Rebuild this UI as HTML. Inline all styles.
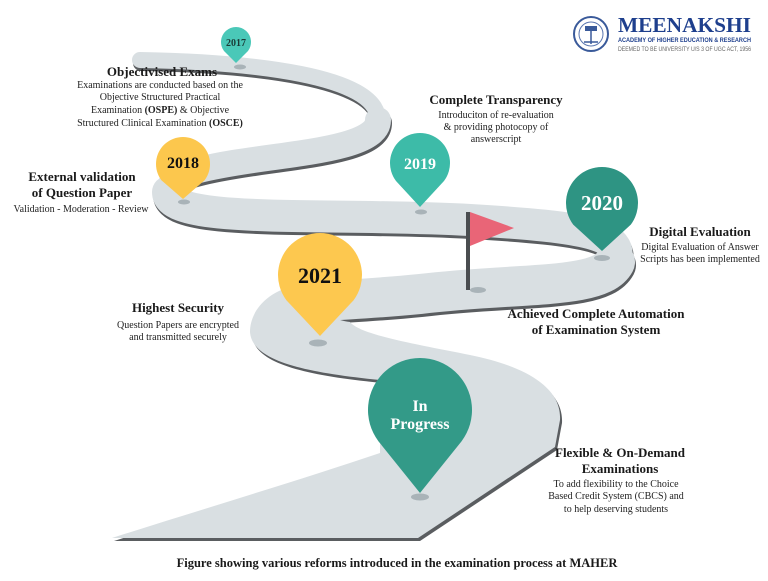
<!DOCTYPE html>
<html><head><meta charset="utf-8"><style>
html,body{margin:0;padding:0;background:#fff;}
svg{display:block;}
text{font-family:"Liberation Serif",serif;}
.t{font-weight:bold;font-size:13px;fill:#1a1a1a;}
.b{font-size:10px;fill:#222;}
</style></head><body>
<svg width="768" height="581" viewBox="0 0 768 581" xmlns="http://www.w3.org/2000/svg">
<!-- road shadows -->
<g fill="none" stroke="#5a5d60" stroke-linecap="round" transform="translate(1,3)">
<path d="M140,60 C 250,62 378,75 378,120" stroke-width="16"/>
<path d="M378,120 C 378,165 170,150 168,192" stroke-width="26"/>
<path d="M168,192 C 168,225 330,212 470,220 C 590,227 625,235 615,262" stroke-width="32"/>
<path d="M615,262 C 600,290 520,282 420,294 C 360,300 320,300 300,304" stroke-width="40"/>
</g>
<path transform="translate(2,3)" d="M300,284 C 262,292 250,315 250,332 C 252,360 300,372 380,380 L 380,453 C 300,480 200,510 112,538 L 418,538 L 555,447 L 560,420 C 562,385 520,365 470,355 C 420,345 360,335 350,322 C 335,320 325,315 320,300 Z" fill="#5a5d60"/>
<!-- road -->
<g fill="none" stroke="#d9dfe2" stroke-linecap="round">
<path d="M140,60 C 250,62 378,75 378,120" stroke-width="16"/>
<path d="M378,120 C 378,165 170,150 168,192" stroke-width="26"/>
<path d="M168,192 C 168,225 330,212 470,220 C 590,227 625,235 615,262" stroke-width="32"/>
<path d="M615,262 C 600,290 520,282 420,294 C 360,300 320,300 300,304" stroke-width="40"/>
</g>
<path d="M300,284 C 262,292 250,315 250,332 C 252,360 300,372 380,380 L 380,453 C 300,480 200,510 112,538 L 418,538 L 555,447 L 560,420 C 562,385 520,365 470,355 C 420,345 360,335 350,322 C 335,320 325,315 320,300 Z" fill="#d9dfe2"/>
<!-- dots -->
<g fill="#a9b3b8">
<ellipse cx="240" cy="67" rx="6" ry="2.5"/>
<ellipse cx="184" cy="202" rx="6" ry="2.5"/>
<ellipse cx="421" cy="212" rx="6" ry="2.5"/>
<ellipse cx="602" cy="258" rx="8" ry="3"/>
<ellipse cx="478" cy="290" rx="8" ry="3"/>
<ellipse cx="318" cy="343" rx="9" ry="3.5"/>
<ellipse cx="420" cy="497" rx="9" ry="3.5"/>
</g>
<!-- flag -->
<rect x="466" y="212" width="4" height="78" fill="#4a4d50"/>
<polygon points="470,212 514,228 470,246" fill="#e96577"/>
<!-- pins -->
<path d="M224,51 A15 15 0 1 1 248,51 L236,63 Z" fill="#4ac8b8"/>
<path d="M161.4,180.2 A27 27 0 1 1 204.6,180.2 L183,199 Z" fill="#fcc74d"/>
<path d="M396,181 A30 30 0 1 1 444,181 L420,207 Z" fill="#3dbba8"/>
<path d="M573.2,224.6 A36 36 0 1 1 630.8,224.6 L602,251 Z" fill="#2e9483"/>
<path d="M286.4,300.2 A42 42 0 1 1 353.6,300.2 L320,336 Z" fill="#fdc84f"/>
<path d="M378.4,441.2 A52 52 0 1 1 461.6,441.2 L420,493 Z" fill="#339a88"/>
<text x="236" y="46" text-anchor="middle" font-weight="bold" font-size="10" fill="#1a3a36">2017</text>
<text x="183" y="168" text-anchor="middle" font-weight="bold" font-size="16" fill="#111">2018</text>
<text x="420" y="169" text-anchor="middle" font-weight="bold" font-size="16" fill="#fff">2019</text>
<text x="602" y="210" text-anchor="middle" font-weight="bold" font-size="21" fill="#fff">2020</text>
<text x="320" y="283" text-anchor="middle" font-weight="bold" font-size="22" fill="#111">2021</text>
<text x="420" y="411" text-anchor="middle" font-weight="bold" font-size="16" fill="#fff">In</text>
<text x="420" y="429" text-anchor="middle" font-weight="bold" font-size="16" fill="#fff">Progress</text>
<!-- texts -->
<text class="t" x="162" y="76" text-anchor="middle">Objectivised Exams</text>
<text class="b" x="160" y="88" text-anchor="middle">Examinations are conducted based on the</text>
<text class="b" x="160" y="100" text-anchor="middle">Objective Structured Practical</text>
<text class="b" x="160" y="113" text-anchor="middle">Examination <tspan font-weight="bold">(OSPE)</tspan> &amp; Objective</text>
<text class="b" x="160" y="126" text-anchor="middle">Structured Clinical Examination <tspan font-weight="bold">(OSCE)</tspan></text>
<text class="t" x="496" y="104" text-anchor="middle">Complete Transparency</text>
<text class="b" x="496" y="118" text-anchor="middle">Introduciton of re-evaluation</text>
<text class="b" x="496" y="130" text-anchor="middle">&amp; providing photocopy of</text>
<text class="b" x="496" y="142" text-anchor="middle">answerscript</text>
<text class="t" x="82" y="181" text-anchor="middle">External validation</text>
<text class="t" x="82" y="197" text-anchor="middle">of Question Paper</text>
<text class="b" x="81" y="212" text-anchor="middle">Validation - Moderation - Review</text>
<text class="t" x="700" y="236" text-anchor="middle">Digital Evaluation</text>
<text class="b" x="700" y="250" text-anchor="middle">Digital Evaluation of Answer</text>
<text class="b" x="700" y="262" text-anchor="middle">Scripts has been implemented</text>
<text class="t" x="178" y="312" text-anchor="middle">Highest Security</text>
<text class="b" x="178" y="328" text-anchor="middle">Question Papers are encrypted</text>
<text class="b" x="178" y="340" text-anchor="middle">and transmitted securely</text>
<text class="t" x="596" y="318" text-anchor="middle">Achieved Complete Automation</text>
<text class="t" x="596" y="334" text-anchor="middle">of Examination System</text>
<text class="t" x="620" y="457" text-anchor="middle">Flexible &amp; On-Demand</text>
<text class="t" x="620" y="473" text-anchor="middle">Examinations</text>
<text class="b" x="616" y="487" text-anchor="middle">To add flexibility to the Choice</text>
<text class="b" x="616" y="499" text-anchor="middle">Based Credit System (CBCS) and</text>
<text class="b" x="616" y="512" text-anchor="middle">to help deserving students</text>
<text x="397" y="567" text-anchor="middle" font-weight="bold" font-size="12.5" fill="#1a1a1a">Figure showing various reforms introduced in the examination process at MAHER</text>
<!-- logo -->
<circle cx="591" cy="34" r="17" fill="none" stroke="#3a5a9a" stroke-width="2"/>
<circle cx="591" cy="34" r="12" fill="none" stroke="#5a76b0" stroke-width="1"/>
<rect x="585" y="26" width="12" height="5" fill="#3a5a9a"/>
<path d="M584,42 L598,42 M591,31 L591,44" stroke="#3a5a9a" stroke-width="1.5"/>
<text x="618" y="32" font-weight="bold" font-size="21" fill="#1e3f8d" textLength="133" lengthAdjust="spacingAndGlyphs">MEENAKSHI</text>
<text x="618" y="42" font-weight="bold" font-size="6.5" fill="#1e3f8d" textLength="133" lengthAdjust="spacingAndGlyphs" style="font-family:'Liberation Sans',sans-serif">ACADEMY OF HIGHER EDUCATION &amp; RESEARCH</text>
<text x="618" y="51" font-size="6" fill="#666" textLength="133" lengthAdjust="spacingAndGlyphs" style="font-family:'Liberation Sans',sans-serif">DEEMED TO BE UNIVERSITY U/S 3 OF UGC ACT, 1956</text>
</svg>
</body></html>
